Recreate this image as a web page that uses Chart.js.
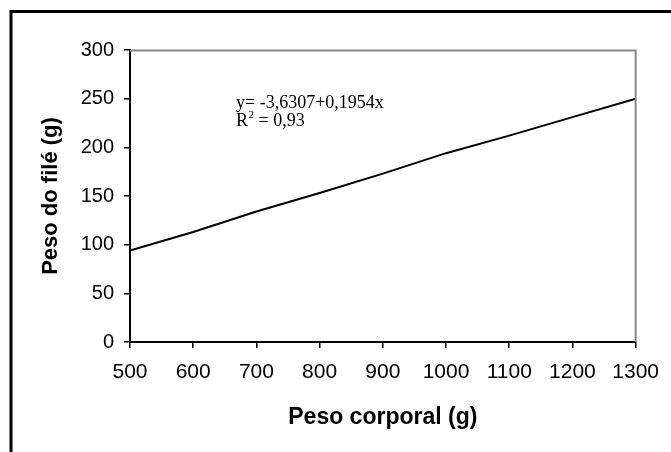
<!DOCTYPE html>
<html>
<head>
<meta charset="utf-8">
<script src="https://cdn.jsdelivr.net/npm/chart.js@4.4.1/dist/chart.umd.min.js"></script>
<style>
  html, body { margin: 0; padding: 0; background: #fff; }
  canvas { display: block; }
</style>
</head>
<body>
<canvas id="grafico" width="671" height="452"></canvas>
<script>
// Data
const pesoCorporal = [500, 600, 700, 800, 900, 1000, 1100, 1200, 1300];
const pesoFile = [94, 113, 134, 153, 173, 194, 212, 231, 250];
const equacao = 'y= -3,6307+0,1954x';
const r2Valor = ' = 0,93';

const fonteEixo = 'Liberation Sans';

// frame, plot box (gray top/right) and the regression text
const molduraPlugin = {
    id: 'moldura',
    beforeDraw(chart) {
        const ctx = chart.ctx;
        ctx.save();
        ctx.fillStyle = '#fff';
        ctx.fillRect(0, 0, chart.width, chart.height);
        ctx.strokeStyle = '#000';
        ctx.lineWidth = 3;
        ctx.strokeRect(11, 11.5, 900, 700);
        ctx.restore();
    },
    afterDraw(chart) {
        const ctx = chart.ctx;
        const a = chart.chartArea;
        ctx.save();
        ctx.strokeStyle = '#888';
        ctx.lineWidth = 2;
        ctx.beginPath();
        ctx.moveTo(a.left, a.top + 0.5);
        ctx.lineTo(a.right, a.top + 0.5);
        ctx.lineTo(a.right, a.bottom);
        ctx.stroke();

        // equation text
        ctx.fillStyle = '#000';
        ctx.textBaseline = 'alphabetic';
        ctx.textAlign = 'left';
        ctx.font = '18px "Liberation Serif"';
        const x0 = 236;
        ctx.fillText(equacao, x0, 108);
        ctx.fillText('R', x0, 126);
        const wR = ctx.measureText('R').width;
        ctx.font = '11px "Liberation Serif"';
        ctx.fillText('2', x0 + wR + 0.5, 118);
        const w2 = ctx.measureText('2').width;
        ctx.font = '18px "Liberation Serif"';
        ctx.fillText(r2Valor, x0 + wR + w2 + 0.5, 126);
        ctx.restore();
    }
};

const ctx = document.getElementById('grafico').getContext('2d');
new Chart(ctx, {
    type: 'scatter',
    data: {
        datasets: [{
            data: pesoCorporal.map((x, i) => ({ x: x, y: pesoFile[i] })),
            showLine: true,
            borderColor: '#000',
            borderWidth: 2,
            pointRadius: 0,
            tension: 0
        }]
    },
    options: {
        responsive: false,
        animation: false,
        devicePixelRatio: 1,
        layout: { padding: { top: 50, right: 34, left: 0, bottom: 0 } },
        plugins: {
            legend: { display: false },
            tooltip: { enabled: false }
        },
        scales: {
            x: {
                type: 'linear',
                min: 500,
                max: 1300,
                afterFit: (s) => { s.height = 110; },
                ticks: {
                    stepSize: 100,
                    color: '#000',
                    padding: 12,
                    maxRotation: 0,
                    callback: (v) => String(v),
                    font: { family: fonteEixo, size: 21 }
                },
                grid: { drawOnChartArea: false, drawTicks: true, tickLength: 6, color: '#000', lineWidth: 1.5 },
                border: { display: true, color: '#000', width: 2 },
                title: {
                    display: true,
                    text: 'Peso corporal (g)',
                    color: '#000',
                    font: { family: fonteEixo, size: 23, weight: 'bold' },
                    padding: { top: 0, bottom: 21 }
                }
            },
            y: {
                min: 0,
                max: 300,
                afterFit: (s) => { s.width = 130; },
                ticks: {
                    stepSize: 50,
                    color: '#000',
                    padding: 10,
                    callback: (v) => String(v),
                    font: { family: fonteEixo, size: 20 }
                },
                grid: { drawOnChartArea: false, drawTicks: true, tickLength: 6, color: '#000', lineWidth: 1.5 },
                border: { display: true, color: '#000', width: 2 },
                title: {
                    display: true,
                    text: 'Peso do filé (g)',
                    color: '#000',
                    font: { family: fonteEixo, size: 22, weight: 'bold' },
                    padding: { top: 38, bottom: 0 }
                }
            }
        }
    },
    plugins: [molduraPlugin]
});
</script>
</body>
</html>
